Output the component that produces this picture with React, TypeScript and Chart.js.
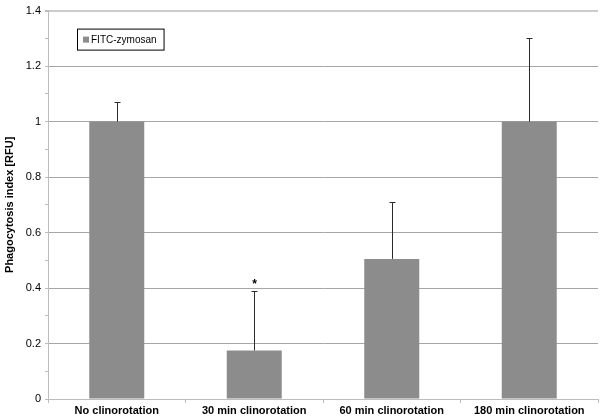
import React, { useEffect, useRef } from "react";
import { Chart, registerables } from "chart.js";

Chart.register(...registerables);

const categories = ["No clinorotation", "30 min clinorotation", "60 min clinorotation", "180 min clinorotation"];
const values = [1.0, 0.175, 0.505, 1.0];
const errors = [0.07, 0.215, 0.205, 0.3];
const significance = ["", "*", "", ""];
const seriesName = "FITC-zymosan";
const yTitle = "Phagocytosis index [RFU]";

const FONT = "'Liberation Sans', Arial, sans-serif";
const BAR_COLOR = "#8c8c8c";

const errorBarPlugin = {
  id: "errorBars",
  afterDatasetsDraw(chart: any) {
    const ctx = chart.ctx;
    const meta = chart.getDatasetMeta(0);
    const y = chart.scales.y;
    ctx.save();
    ctx.strokeStyle = "#2a2a2a";
    ctx.lineWidth = 1;
    meta.data.forEach((bar: any, i: number) => {
      const x = Math.round(bar.x) + 0.5;
      const top = Math.round(y.getPixelForValue(values[i] + errors[i])) + 0.5;
      const base = y.getPixelForValue(values[i]);
      ctx.beginPath();
      ctx.moveTo(x, base);
      ctx.lineTo(x, top);
      ctx.moveTo(x - 3, top);
      ctx.lineTo(x + 3, top);
      ctx.stroke();
      if (significance[i]) {
        ctx.fillStyle = "#000";
        ctx.font = `bold 12px ${FONT}`;
        ctx.textAlign = "center";
        ctx.textBaseline = "bottom";
        ctx.fillText(significance[i], x, top - 1);
      }
    });
    ctx.restore();
  },
};

const legendPlugin = {
  id: "boxLegend",
  afterDraw(chart: any) {
    const ctx = chart.ctx;
    const area = chart.chartArea;
    const x0 = area.left + 29;
    const y0 = area.top + 18;
    ctx.save();
    ctx.font = `10px ${FONT}`;
    const tw = ctx.measureText(seriesName).width;
    const w = 6 + 6 + 3 + tw + 6;
    const h = 21;
    ctx.fillStyle = "#fff";
    ctx.fillRect(x0, y0, w, h);
    ctx.strokeStyle = "#000";
    ctx.lineWidth = 1;
    ctx.strokeRect(x0 + 0.5, y0 + 0.5, w, h);
    ctx.fillStyle = BAR_COLOR;
    ctx.fillRect(x0 + 6, y0 + 8, 6, 6);
    ctx.fillStyle = "#000";
    ctx.textBaseline = "middle";
    ctx.fillText(seriesName, x0 + 14, y0 + h / 2 + 1);
    ctx.restore();
  },
};

export default function App() {
  const ref = useRef<HTMLCanvasElement>(null);
  useEffect(() => {
    if (!ref.current) return;
    const chart = new Chart(ref.current, {
      type: "bar",
      data: {
        labels: categories,
        datasets: [
          {
            label: seriesName,
            data: values,
            backgroundColor: BAR_COLOR,
            borderWidth: 0,
            barPercentage: 0.8,
            categoryPercentage: 0.5,
          },
        ],
      },
      options: {
        animation: false,
        responsive: false,
        maintainAspectRatio: false,
        layout: { padding: { top: 5, right: 2, left: 0, bottom: 0 } },
        plugins: { legend: { display: false }, tooltip: { enabled: false } },
        scales: {
          x: {
            grid: {
              drawOnChartArea: false,
              drawTicks: true,
              tickLength: 4,
              color: "#bdbdbd",
              offset: true,
            },
            border: { color: "#bdbdbd" },
            ticks: {
              color: "#000",
              font: { family: FONT, size: 11, weight: "bold" },
              maxRotation: 0,
              padding: 1,
            },
            afterFit(scale: any) {
              scale.height = 18;
            },
          },
          y: {
            min: 0,
            max: 1.4,
            ticks: {
              stepSize: 0.1,
              color: "#000",
              font: { family: FONT, size: 11 },
              padding: 4,
              callback: (v: any) => {
                const n = Math.round(Number(v) * 10);
                return n % 2 === 0 ? String(Math.round(n) / 10) : "";
              },
            },
            grid: {
              color: (c: any) => {
                const n = Math.round(Number(c.tick?.value) * 10);
                if (n === 14) return "#cccccc";
                return n % 2 === 0 ? "#a6a6a6" : "rgba(0,0,0,0)";
              },
              lineWidth: (c: any) => {
                const n = Math.round(Number(c.tick?.value) * 10);
                return n === 14 ? 2 : 1;
              },
              tickColor: "#bdbdbd",
              tickLength: 3,
            },
            border: { color: "#bdbdbd" },
            title: {
              display: true,
              text: yTitle,
              color: "#000",
              font: { family: FONT, size: 11, weight: "bold" },
              padding: { top: 3, bottom: 1 },
            },
            afterFit(scale: any) {
              scale.width = 48;
            },
          },
        },
      },
      plugins: [errorBarPlugin, legendPlugin],
    });
    return () => chart.destroy();
  }, []);
  return (
    <div style={{ position: "fixed", left: 0, top: 0, width: 600, height: 417, background: "#fff" }}>
      <canvas ref={ref} width={600} height={417} style={{ display: "block" }} />
    </div>
  );
}
